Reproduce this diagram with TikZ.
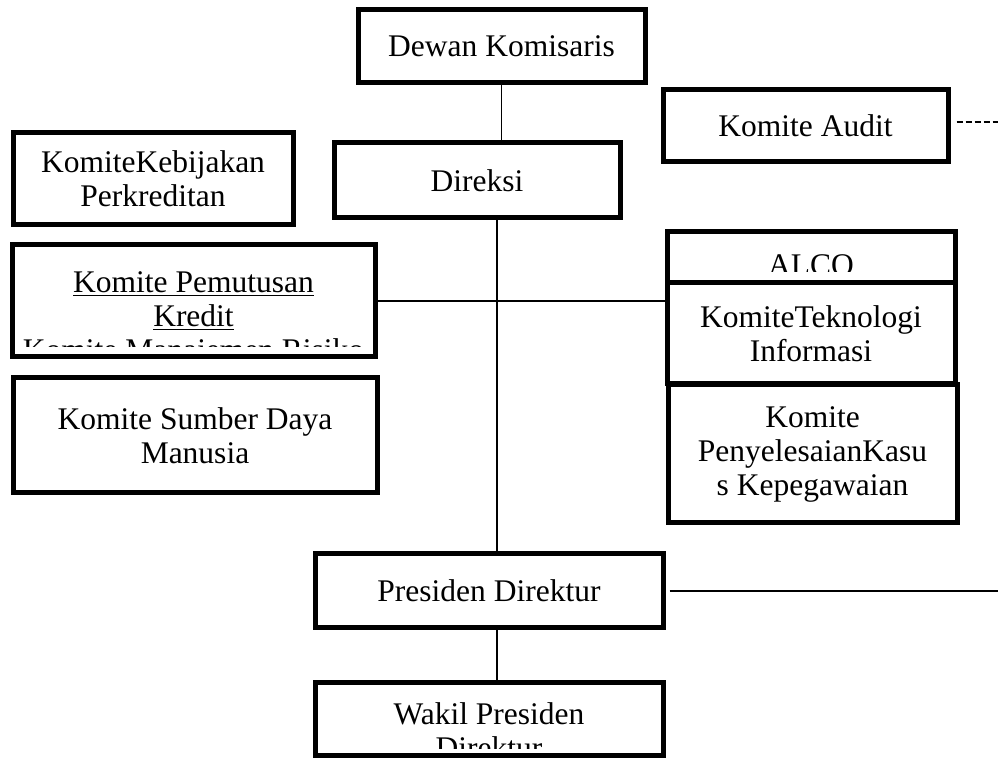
\documentclass[tikz,border=0pt]{standalone}
\usepackage{fontspec}
\setmainfont{Liberation Serif}
\usetikzlibrary{positioning}

\begin{document}
\begin{tikzpicture}[
    x=0.5pt, y=-0.5pt,
    box/.style={draw,line width=2.5pt,rectangle,inner sep=0pt,align=center,
      font=\fontsize{15.75}{17}\selectfont},
    txt/.style={inner sep=0pt,align=center,anchor=north,
      font=\fontsize{15.75}{17}\selectfont},
    conn/.style={line width=0.9pt},
    dashconn/.style={line width=0.9pt,dash pattern=on 3pt off 1.5pt}
  ]
    \useasboundingbox (0,0) rectangle (998,758);

    % clipped texts first, boxes drawn over them
    \begin{scope}
      \clip (12,245) rectangle (375,347);
      \node[txt] (pemtxt) at (193.5,271.5) {\underline{Komite Pemutusan}\\\underline{Kredit}\\Komite Manajemen Risiko};
    \end{scope}
    \begin{scope}
      \clip (667,232) rectangle (955,272);
      \node[txt] (alcotxt) at (811,254) {ALCO};
    \end{scope}
    \begin{scope}
      \clip (315,683) rectangle (663,749);
      \node[txt] (wakiltxt) at (489,702.5) {Wakil Presiden\\Direktur};
    \end{scope}

    \node[box, minimum width=143.5pt, minimum height=36.5pt] (dewan) at (501.5,46.5) {Dewan Komisaris};
    \node[box, minimum width=143pt, minimum height=37.5pt] (direksi) at (477,180.5) {Direksi};
    \node[box, minimum width=142.5pt, minimum height=36pt] (audit) at (805.5,126) {Komite Audit};
    \node[box, minimum width=140pt, minimum height=46pt] (kebijakan) at (153,179) {KomiteKebijakan\\Perkreditan};
    \node[box, minimum width=181.5pt, minimum height=56pt] (pemutusan) at (193.5,301) {};
    \node[box, minimum width=182pt, minimum height=57.5pt] (sdm) at (195,435.5) {Komite Sumber Daya\\Manusia};
    \node[box, minimum width=144pt, minimum height=25.5pt] (alco) at (811,257.5) {};
    \node[box, minimum width=144pt, minimum height=50.5pt] (ti) at (811,333.5) {KomiteTeknologi\\Informasi};
    \node[box, minimum width=144.5pt, minimum height=69pt] (kasus) at (812.5,454) {Komite\\PenyelesaianKasu\\s Kepegawaian};
    \node[box, minimum width=174pt, minimum height=37pt] (presdir) at (489,591) {Presiden Direktur};
    \node[box, minimum width=174pt, minimum height=36.5pt] (wakil) at (489,719.5) {};

    \coordinate (auditout) at (998,122);
    \coordinate (presout) at (998,591);

    \draw[conn] (dewan.south) -- (dewan.south |- direksi.north);
    \draw[conn] ([xshift=10pt]direksi.south) -- ([xshift=4pt]presdir.north);
    \draw[conn] (pemutusan.east) -- (pemutusan.east -| ti.west);
    \draw[conn] ([xshift=4pt]presdir.south) -- ([xshift=4pt]wakil.north);
    \draw[conn] ([xshift=2pt]presdir.east) -- (presout);
    \draw[dashconn] ([xshift=3pt]audit.east |- auditout) -- (auditout);
  \end{tikzpicture}
\end{document}
